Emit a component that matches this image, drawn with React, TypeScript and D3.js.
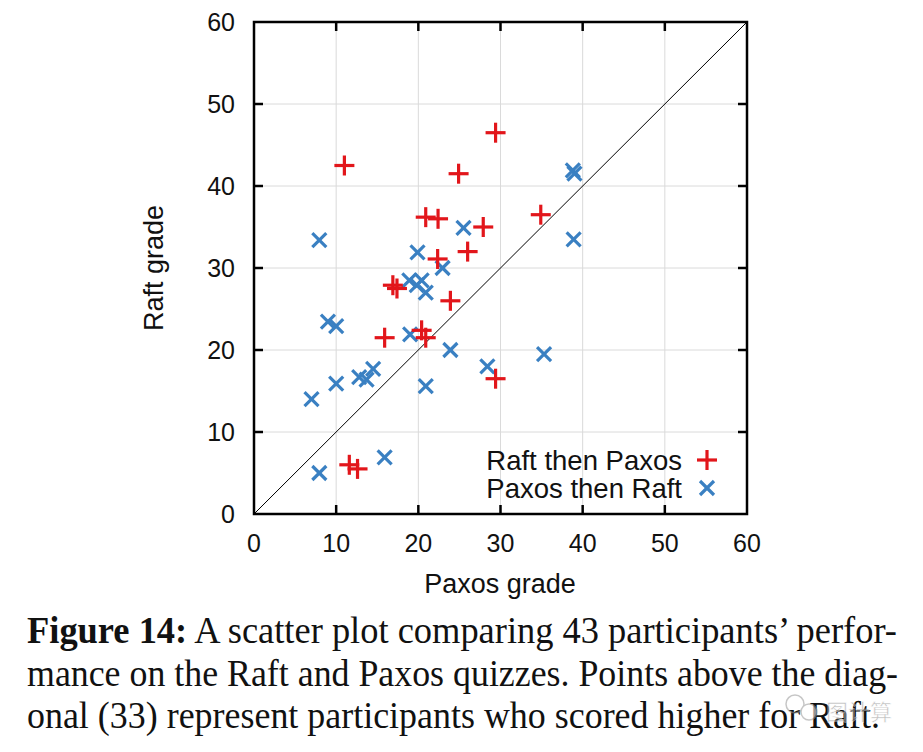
import * as d3 from "d3";

// Raft then Paxos  (paxos grade, raft grade)
const raftFirstPaxos = [11, 29.4, 24.9, 20.9, 22.4, 27.9, 34.9, 26, 22.35, 16.9, 17.4, 23.9, 15.9, 20.4, 20.9, 29.4, 11.6, 12.6];
const raftFirstRaft = [42.5, 46.5, 41.5, 36.2, 36.0, 35.0, 36.5, 32.0, 31.1, 27.9, 27.5, 26.0, 21.5, 22.4, 21.5, 16.5, 6.0, 5.5];

// Paxos then Raft
const paxosFirstPaxos = [7.95, 25.5, 19.9, 22.95, 18.9, 19.8, 20.4, 20.9, 9.0, 10.0, 19.0, 23.9, 7.0, 10.0, 12.8, 13.7, 14.5, 20.9, 28.4, 35.3, 7.95, 15.9, 38.8, 39.0, 38.9];
const paxosFirstRaft = [33.4, 34.9, 31.9, 30.0, 28.5, 27.9, 28.5, 27.0, 23.45, 22.9, 21.9, 20.0, 14.0, 15.9, 16.7, 16.4, 17.7, 15.6, 18.0, 19.5, 5.0, 6.9, 41.9, 41.5, 33.5];

const ticks = [0, 10, 20, 30, 40, 50, 60];
const legendLabels = ["Raft then Paxos", "Paxos then Raft"];

const captionLines = [
  "A scatter plot comparing 43 participants\u2019 perfor-",
  "mance on the Raft and Paxos quizzes. Points above the diag-",
  "onal (33) represent participants who scored higher for Raft.",
];

const RED = "#e2161b";
const BLUE = "#3a80c2";
const SANS = "'Liberation Sans', Arial, Helvetica, sans-serif";

const Plus = ({ cx, cy, r = 10 }) => (
  <g stroke={RED} strokeWidth={3.2}>
    <line x1={cx - r} x2={cx + r} y1={cy} y2={cy} />
    <line x1={cx} x2={cx} y1={cy - r} y2={cy + r} />
  </g>
);

const Cross = ({ cx, cy, r = 7 }) => (
  <g stroke={BLUE} strokeWidth={3.2}>
    <line x1={cx - r} x2={cx + r} y1={cy - r} y2={cy + r} />
    <line x1={cx - r} x2={cx + r} y1={cy + r} y2={cy - r} />
  </g>
);

export default function App() {
  const x = d3.scaleLinear().domain([0, 60]).range([254, 747]);
  const y = d3.scaleLinear().domain([0, 60]).range([514, 22]);
  const [x0, x1] = x.range();
  const [y0, y1] = y.range();
  const tl = 9;
  const sx = 0.9; // caption is set condensed

  return (
    <svg width={923} height={752} style={{ position: "absolute", left: 0, top: 0, background: "#fff" }}>
      <rect width={923} height={752} fill="#fff" />
      {/* grid */}
      <g stroke="#dadada" strokeWidth={1}>
        {ticks.slice(1, -1).map((t) => (
          <line key={"gx" + t} x1={x(t)} x2={x(t)} y1={y0} y2={y1} />
        ))}
        {ticks.slice(1, -1).map((t) => (
          <line key={"gy" + t} x1={x0} x2={x1} y1={y(t)} y2={y(t)} />
        ))}
      </g>
      {/* diagonal */}
      <line x1={x(0)} y1={y(0)} x2={x(60)} y2={y(60)} stroke="#000" strokeWidth={1} />

      {/* points */}
      {paxosFirstPaxos.map((p, i) => (
        <Cross key={"b" + i} cx={x(p)} cy={y(paxosFirstRaft[i])} />
      ))}
      {raftFirstPaxos.map((p, i) => (
        <Plus key={"r" + i} cx={x(p)} cy={y(raftFirstRaft[i])} />
      ))}

      {/* frame and ticks */}
      <g stroke="#000" strokeWidth={2.5}>
        {ticks.slice(1, -1).map((t) => (
          <g key={"t" + t}>
            <line x1={x(t)} x2={x(t)} y1={y0} y2={y0 - tl} />
            <line x1={x(t)} x2={x(t)} y1={y1} y2={y1 + tl} />
            <line x1={x0} x2={x0 + tl} y1={y(t)} y2={y(t)} />
            <line x1={x1} x2={x1 - tl} y1={y(t)} y2={y(t)} />
          </g>
        ))}
        <rect x={x0} y={y1} width={x1 - x0} height={y0 - y1} fill="none" />
      </g>

      {/* tick labels */}
      <g fontFamily={SANS} fontSize={25} fill="#111">
        {ticks.map((t) => (
          <text key={"xl" + t} x={x(t)} y={552} textAnchor="middle">{t}</text>
        ))}
        {ticks.map((t) => (
          <text key={"yl" + t} x={235} y={y(t) + 9} textAnchor="end">{t}</text>
        ))}
      </g>

      {/* axis titles */}
      <text x={500} y={593} textAnchor="middle" fontFamily={SANS} fontSize={27} fill="#111">Paxos grade</text>
      <text transform="translate(163,268) rotate(-90)" textAnchor="middle" fontFamily={SANS} fontSize={27} fill="#111">Raft grade</text>

      {/* legend */}
      <g fontFamily={SANS} fontSize={27.5} fill="#111">
        <text x={682} y={470} textAnchor="end">{legendLabels[0]}</text>
        <text x={682} y={498} textAnchor="end">{legendLabels[1]}</text>
      </g>
      <Plus cx={707} cy={460} />
      <Cross cx={707} cy={488} />

      {/* caption */}
      <g transform={`translate(27,0) scale(${sx},1)`} fontFamily="'Liberation Serif', 'Times New Roman', serif" fontSize={38} fill="#111">
        <text x={0} y={643} textLength={870 / sx} lengthAdjust="spacingAndGlyphs">
          <tspan fontWeight="bold">Figure 14:</tspan> {captionLines[0]}
        </text>
        <text x={0} y={686} textLength={871 / sx} lengthAdjust="spacingAndGlyphs">{captionLines[1]}</text>
        <text x={0} y={728} textLength={853 / sx} lengthAdjust="spacingAndGlyphs">{captionLines[2]}</text>
      </g>

      {/* watermark */}
      <g opacity={0.55}>
        <circle cx={795} cy={704} r={9} fill="none" stroke="#999" strokeWidth={1.5} />
        <circle cx={809} cy={712} r={8} fill="#fff" stroke="#999" strokeWidth={1.5} />
        <text x={826} y={720} fontFamily="'Noto Sans CJK SC', sans-serif" fontSize={22} fill="#888" stroke="#fff" strokeWidth={0.6}>图计算</text>
      </g>
    </svg>
  );
}
